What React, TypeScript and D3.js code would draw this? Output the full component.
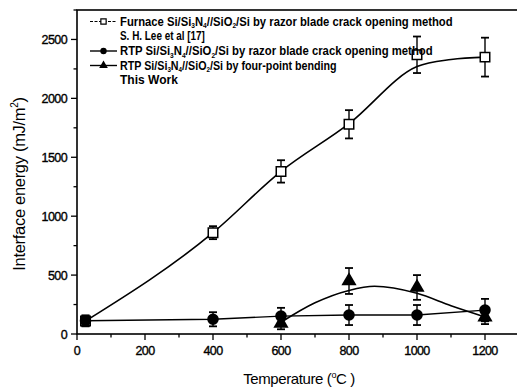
import { useEffect, useRef } from "react";
import * as d3 from "d3";

// measured points
const temps = [25, 400, 600, 800, 1000, 1200];
const furnaceEnergy = [110, 860, 1380, 1780, 2370, 2350];
const furnaceErr = [45, 55, 95, 120, 155, 165];
const razorEnergy = [113, 125, 152, 161, 161, 203];
const razorErr = [45, 60, 70, 85, 85, 95];
const bendTemps = [600, 800, 1000, 1200];
const bendEnergy = [90, 450, 395, 144];
const bendErr = [50, 110, 105, 60];

// hand-drawn fit curves
const furnaceFitTemps = [25, 400, 600, 800, 1000, 1100, 1200];
const furnaceFit = [110, 860, 1380, 1785, 2270, 2330, 2350];
const bendFitTemps = [600, 700, 800, 875, 1000, 1100, 1200];
const bendFit = [100, 265, 370, 405, 345, 240, 145];

const xTicks = [0, 200, 400, 600, 800, 1000, 1200];
const yTicks = [0, 500, 1000, 1500, 2000, 2500];

const W = 517;
const H = 390;
const FONT = "'Liberation Sans', Arial, sans-serif";

export default function App() {
  const svgRef = useRef<SVGSVGElement>(null);

  useEffect(() => {
    if (!svgRef.current) return;
    const svg = d3.select(svgRef.current);
    svg.selectAll("*").remove();

    const x = d3.scaleLinear().domain([0, 1300]).range([77, 519]);
    const y = d3.scaleLinear().domain([0, 2750]).range([334, 10]);

    const g = svg.append("g");

    // frame
    g.append("rect")
      .attr("x", x(0))
      .attr("y", y(2750))
      .attr("width", x(1300) - x(0))
      .attr("height", y(0) - y(2750))
      .attr("fill", "none")
      .attr("stroke", "#000")
      .attr("stroke-width", 1.6);

    // y ticks
    const yMinor = d3.range(0, 2751, 250);
    g.selectAll(".ytick")
      .data(yMinor)
      .join("line")
      .attr("x1", (d) => x(0) - (d % 500 === 0 ? 6 : 3.5))
      .attr("x2", x(0))
      .attr("y1", (d) => y(d))
      .attr("y2", (d) => y(d))
      .attr("stroke", "#000")
      .attr("stroke-width", 1.3);
    g.selectAll(".ylab")
      .data(yTicks)
      .join("text")
      .attr("x", 67)
      .attr("y", (d) => y(d) + 4.5)
      .attr("text-anchor", "end")
      .attr("font-family", FONT)
      .attr("font-size", 12.5)
      .attr("letter-spacing", -0.6)
      .attr("stroke", "#000")
      .attr("stroke-width", 0.35)
      .text((d) => d);

    // x ticks
    const xMinor = d3.range(0, 1301, 100);
    g.selectAll(".xtick")
      .data(xMinor)
      .join("line")
      .attr("x1", (d) => x(d))
      .attr("x2", (d) => x(d))
      .attr("y1", y(0))
      .attr("y2", (d) => y(0) + (d % 200 === 0 ? 6 : 3.5))
      .attr("stroke", "#000")
      .attr("stroke-width", 1.3);
    g.selectAll(".xlab")
      .data(xTicks)
      .join("text")
      .attr("x", (d) => x(d))
      .attr("y", 355)
      .attr("text-anchor", "middle")
      .attr("font-family", FONT)
      .attr("font-size", 12.5)
      .attr("letter-spacing", -0.6)
      .attr("stroke", "#000")
      .attr("stroke-width", 0.35)
      .text((d) => d);

    // axis titles
    const xt = g.append("text")
      .attr("x", 299)
      .attr("y", 384)
      .attr("text-anchor", "middle")
      .attr("font-family", FONT)
      .attr("font-size", 15)
      .attr("letter-spacing", -0.4);
    xt.append("tspan").text("Temperature  (");
    xt.append("tspan").attr("font-size", 9).attr("dy", -6).text("o");
    xt.append("tspan").attr("dy", 6).text("C )");

    const yt = g.append("text")
      .attr("transform", `translate(25,184) rotate(-90)`)
      .attr("text-anchor", "middle")
      .attr("font-family", FONT)
      .attr("font-size", 16.5)
      .attr("letter-spacing", -0.3);
    yt.append("tspan").text("Interface energy  (mJ/m");
    yt.append("tspan").attr("font-size", 10).attr("dy", -7).text("2");
    yt.append("tspan").attr("dy", 7).text(")");

    // fit curves and connecting line
    const furnaceLine = d3
      .line<number>()
      .x((_, i) => x(furnaceFitTemps[i]))
      .y((d) => y(d))
      .curve(d3.curveMonotoneX);
    g.append("path")
      .attr("d", furnaceLine(furnaceFit))
      .attr("fill", "none")
      .attr("stroke", "#000")
      .attr("stroke-width", 1.6);

    const bendLine = d3
      .line<number>()
      .x((_, i) => x(bendFitTemps[i]))
      .y((d) => y(d))
      .curve(d3.curveMonotoneX);
    g.append("path")
      .attr("d", bendLine(bendFit))
      .attr("fill", "none")
      .attr("stroke", "#000")
      .attr("stroke-width", 1.6);

    const razorLine = d3
      .line<number>()
      .x((_, i) => x(temps[i]))
      .y((d) => y(d));
    g.append("path")
      .attr("d", razorLine(razorEnergy))
      .attr("fill", "none")
      .attr("stroke", "#000")
      .attr("stroke-width", 1.4);

    // error bars
    const errBars = (xs: number[], vals: number[], errs: number[]) => {
      xs.forEach((t, i) => {
        const cx = x(t);
        const top = y(vals[i] + errs[i]);
        const bot = y(Math.max(0, vals[i] - errs[i]));
        const eg = g.append("g").attr("stroke", "#000").attr("stroke-width", 1.4);
        eg.append("line").attr("x1", cx).attr("x2", cx).attr("y1", top).attr("y2", bot);
        eg.append("line").attr("x1", cx - 4).attr("x2", cx + 4).attr("y1", top).attr("y2", top).attr("stroke-width", 1.8);
        eg.append("line").attr("x1", cx - 4).attr("x2", cx + 4).attr("y1", bot).attr("y2", bot).attr("stroke-width", 1.8);
      });
    };
    errBars(temps, furnaceEnergy, furnaceErr);
    errBars(temps, razorEnergy, razorErr);
    errBars(bendTemps, bendEnergy, bendErr);

    // markers
    const square = d3.symbol(d3.symbolSquare, 90);
    const circle = d3.symbol(d3.symbolCircle, 105);
    const triangle = d3.symbol(d3.symbolTriangle, 100);

    g.selectAll(".sq")
      .data(furnaceEnergy)
      .join("path")
      .attr("transform", (d, i) => `translate(${x(temps[i])},${y(d)})`)
      .attr("d", square())
      .attr("fill", "#fff")
      .attr("stroke", "#000")
      .attr("stroke-width", 1.5);
    g.selectAll(".ci")
      .data(razorEnergy)
      .join("path")
      .attr("transform", (d, i) => `translate(${x(temps[i])},${y(d)})`)
      .attr("d", circle())
      .attr("fill", "#000");
    g.selectAll(".tr")
      .data(bendEnergy)
      .join("path")
      .attr("transform", (d, i) => `translate(${x(bendTemps[i])},${y(d)})`)
      .attr("d", triangle())
      .attr("fill", "#000");

    // legend
    const lg = g.append("g").attr("font-family", FONT).attr("font-weight", "bold").attr("font-size", 12);
    const rows = [21.5, 36, 51, 65.5, 80];
    const sample = (ry: number, sym: string, dashed: boolean) => {
      lg.append("line")
        .attr("x1", 90)
        .attr("x2", 117)
        .attr("y1", ry)
        .attr("y2", ry)
        .attr("stroke", "#000")
        .attr("stroke-width", dashed ? 1 : 1.4)
        .attr("stroke-dasharray", dashed ? "3,1.5" : null);
      const p = lg.append("path").attr("transform", `translate(103.5,${ry})`);
      if (sym === "sq") p.attr("d", d3.symbol(d3.symbolSquare, 28)()).attr("fill", "#fff").attr("stroke", "#000").attr("stroke-width", 1.2);
      if (sym === "ci") p.attr("d", d3.symbol(d3.symbolCircle, 32)()).attr("fill", "#000");
      if (sym === "tr") p.attr("d", d3.symbol(d3.symbolTriangle, 32)()).attr("fill", "#000");
    };
    // squeeze a row to the width it has in the figure
    const row = (ry: number, width: number) => {
      const rg = lg.append("g");
      const t = rg.append("text").attr("x", 0).attr("y", 0);
      return { rg, t, fit: () => {
        const w = (t.node() as SVGTextElement).getComputedTextLength();
        rg.attr("transform", `translate(120,${ry + 4.2}) scale(${width / w},1)`);
      } };
    };
    const formula = (ry: number, width: number, prefix: string, suffix: string) => {
      const { t, fit } = row(ry, width);
      t.append("tspan").text(prefix + "Si/Si");
      t.append("tspan").attr("font-size", 7).attr("dy", 2.5).text("3");
      t.append("tspan").attr("dy", -2.5).text("N");
      t.append("tspan").attr("font-size", 7).attr("dy", 2.5).text("4");
      t.append("tspan").attr("dy", -2.5).text("//SiO");
      t.append("tspan").attr("font-size", 7).attr("dy", 2.5).text("2");
      t.append("tspan").attr("dy", -2.5).text("/Si " + suffix);
      fit();
    };
    const plain = (ry: number, width: number, s: string) => {
      const { t, fit } = row(ry, width);
      t.text(s);
      fit();
    };
    sample(rows[0], "sq", true);
    formula(rows[0], 333, "Furnace ", "by razor blade crack opening method");
    plain(rows[1], 85, "S. H. Lee et al [17]");
    sample(rows[2], "ci", false);
    formula(rows[2], 313, "RTP ", "by razor blade crack opening method");
    sample(rows[3], "tr", false);
    formula(rows[3], 217, "RTP ", "by four-point bending");
    plain(rows[4], 58, "This Work");
  }, []);

  return (
    <svg
      ref={svgRef}
      width={W}
      height={H}
      style={{ position: "absolute", left: 0, top: 0, background: "#fff" }}
      role="img"
      aria-label="Interface energy versus temperature"
    />
  );
}
